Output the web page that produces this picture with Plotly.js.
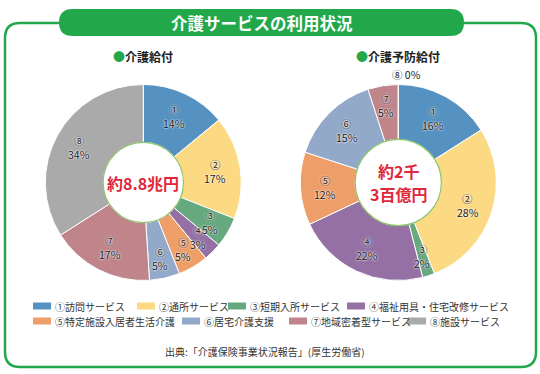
<!DOCTYPE html>
<html><head><meta charset="utf-8">
<script src="https://cdn.plot.ly/plotly-3.0.1.min.js"></script>
<style>html,body{margin:0;padding:0;background:#fff}#chart{width:540px;height:374px}</style>
</head><body><div id="chart"></div>
<script>
// ---- data ----
const marks = ["①","②","③","④","⑤","⑥","⑦","⑧"];
const categories = ["訪問サービス","通所サービス","短期入所サービス","福祉用具・住宅改修サービス","特定施設入居者生活介護","居宅介護支援","地域密着型サービス","施設サービス"];
const kaigoValues = [14, 17, 5, 3, 5, 5, 17, 34];
const yoboValues = [16, 28, 2, 22, 12, 15, 5, 0];
const kaigoTitle = "介護給付";
const yoboTitle = "介護予防給付";
const kaigoTotal = ["約8.8兆円"];
const yoboTotal = ["約2千", "3百億円"];
const mainTitle = "介護サービスの利用状況";
const sourceText = "出典:「介護保険事業状況報告」(厚生労働省)";

// ---- styles / geometry ----
const colors = ["#5591c1","#fcd983","#66a97e","#9470a4","#ee9e68","#93a9ca","#bf858b","#aaaaaa"];
const W = 540, H = 374;
const FONT = "'Noto Sans CJK JP', 'Noto Sans', sans-serif";
const GREEN = "#22a84a";
const px = x => x / W, py = y => 1 - y / H;
const pieGeo = [
  {cx: 143.3, cy: 182.5, r: 98, hole: 0.41},
  {cx: 398.3, cy: 182.5, r: 98, hole: 0.44}
];
const legendRowsY = [306, 321];
const legendX = [[33, 137, 228, 347], [33, 182, 289, 408]];

const traces = [];
const annotations = [];
const shapes = [];
const labelFont = {family: FONT, size: 10.5, color: "#1a1a1a", shadow: "0 0 2px #fff, 0 0 2px #fff"};

// frame
(function(){
  const x0 = 5, x1 = 536, y0 = 23, y1 = 367, r = 15;
  const P = (x, y) => px(x) + "," + py(y);
  const path = "M" + P(x0 + r, y0) + " L" + P(x1 - r, y0) + " Q" + P(x1, y0) + " " + P(x1, y0 + r) +
    " L" + P(x1, y1 - r) + " Q" + P(x1, y1) + " " + P(x1 - r, y1) +
    " L" + P(x0 + r, y1) + " Q" + P(x0, y1) + " " + P(x0, y1 - r) +
    " L" + P(x0, y0 + r) + " Q" + P(x0, y0) + " " + P(x0 + r, y0) + " Z";
  shapes.push({type: "path", xref: "paper", yref: "paper", path: path, line: {color: GREEN, width: 2.5}, fillcolor: "rgba(0,0,0,0)", layer: "below"});
  const a0 = 59, a1 = 464, b0 = 9, b1 = 36, rr = 13.5;
  const pill = "M" + P(a0 + rr, b0) + " L" + P(a1 - rr, b0) + " Q" + P(a1, b0) + " " + P(a1, b0 + rr) +
    " Q" + P(a1, b1) + " " + P(a1 - rr, b1) + " L" + P(a0 + rr, b1) + " Q" + P(a0, b1) + " " + P(a0, b0 + rr) +
    " Q" + P(a0, b0) + " " + P(a0 + rr, b0) + " Z";
  shapes.push({type: "path", xref: "paper", yref: "paper", path: pill, line: {color: GREEN, width: 0}, fillcolor: GREEN, layer: "below"});
  annotations.push({xref: "paper", yref: "paper", x: px((a0 + a1) / 2), y: py((b0 + b1) / 2), text: "<b>" + mainTitle + "</b>", showarrow: false,
    font: {family: FONT, size: 16.5, color: "#fff"}, xanchor: "center", yanchor: "middle"});
})();

[[kaigoValues, kaigoTitle, kaigoTotal], [yoboValues, yoboTitle, yoboTotal]].forEach(([vals, ttl, tot], i) => {
  const g = pieGeo[i];
  traces.push({
    type: "pie", values: vals, labels: marks.map((m, k) => m + categories[k]),
    sort: false, direction: "clockwise", rotation: 0, hole: g.hole,
    textinfo: "none", hoverinfo: "label+percent", showlegend: false,
    marker: {colors: colors, line: {color: "#fff", width: 1}},
    domain: {x: [px(g.cx - g.r), px(g.cx + g.r)], y: [py(g.cy + g.r), py(g.cy - g.r)]}
  });
  const hr = g.hole * g.r;
  shapes.push({type: "circle", xref: "paper", yref: "paper",
    x0: px(g.cx - hr), x1: px(g.cx + hr), y0: py(g.cy + hr), y1: py(g.cy - hr),
    line: {color: "#8cc46a", width: 1.2}, fillcolor: "rgba(0,0,0,0)"});
  const total = vals.reduce((a, b) => a + b, 0);
  let cum = 0;
  vals.forEach((v, k) => {
    const th = (cum + v / 2) / total * 2 * Math.PI;
    cum += v;
    if (v > 0) {
      const rl = 73 + (v <= 5 ? 5 : 0);
      const lx = g.cx + rl * Math.sin(th), ly = g.cy - rl * Math.cos(th);
      annotations.push({xref: "paper", yref: "paper", x: px(lx), y: py(ly - 7), text: marks[k], showarrow: false,
        xanchor: "center", yanchor: "middle", borderpad: 0, font: labelFont});
      annotations.push({xref: "paper", yref: "paper", x: px(lx), y: py(ly + 7), text: v + "%", showarrow: false,
        xanchor: "center", yanchor: "middle", borderpad: 0, font: labelFont});
    } else {
      const ro = g.r + 10;
      annotations.push({xref: "paper", yref: "paper", x: px(g.cx + ro * Math.sin(th)), y: py(g.cy - ro * Math.cos(th)),
        text: marks[k] + " " + v + "%", showarrow: false, xanchor: "center", yanchor: "middle", xshift: 8, borderpad: 0,
        font: {family: FONT, size: 10.5, color: "#1a1a1a"}});
    }
  });
  tot.forEach((line, j) => {
    const off = (j - (tot.length - 1) / 2) * 23;
    annotations.push({xref: "paper", yref: "paper", x: px(g.cx), y: py(g.cy + off), text: "<b>" + line + "</b>", showarrow: false,
      xanchor: "center", yanchor: "middle", borderpad: 0, font: {family: FONT, size: 16, color: "#e0283a"}});
  });
  annotations.push({xref: "paper", yref: "paper", x: px(g.cx), y: py(57), showarrow: false, xanchor: "center", yanchor: "middle",
    text: "<span style='color:" + GREEN + "'>●</span><b>" + ttl + "</b>", font: {family: FONT, size: 12, color: "#222"}});
});

categories.forEach((c, k) => {
  const row = Math.floor(k / 4), col = k % 4;
  const x = legendX[row][col], y = legendRowsY[row];
  shapes.push({type: "rect", xref: "paper", yref: "paper", x0: px(x), x1: px(x + 18), y0: py(y + 3.5), y1: py(y - 3.5),
    line: {width: 0}, fillcolor: colors[k]});
  annotations.push({xref: "paper", yref: "paper", x: px(x + 21), y: py(y), text: marks[k] + c, showarrow: false,
    xanchor: "left", yanchor: "middle", borderpad: 0, font: {family: FONT, size: 10, color: "#333"}});
});
annotations.push({xref: "paper", yref: "paper", x: px(265), y: py(351), text: sourceText, showarrow: false,
  xanchor: "center", yanchor: "middle", font: {family: FONT, size: 10, color: "#333"}});

Plotly.newPlot("chart", traces, {
  width: W, height: H, margin: {l: 0, r: 0, t: 0, b: 0},
  paper_bgcolor: "#fff", plot_bgcolor: "#fff", showlegend: false,
  shapes: shapes, annotations: annotations
}, {displayModeBar: false, staticPlot: true});
</script></body></html>
